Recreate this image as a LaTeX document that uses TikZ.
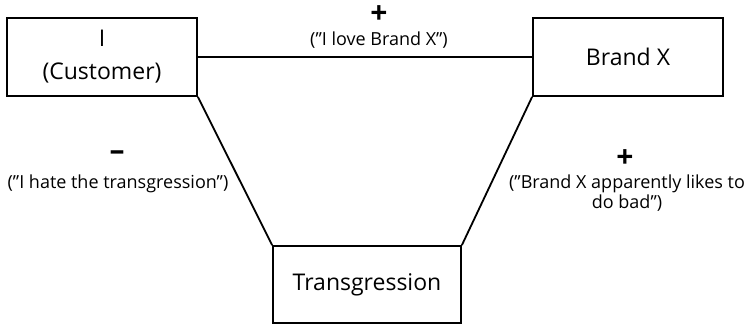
\documentclass[tikz,border=0pt]{standalone}
\usepackage{fontspec}
\setmainfont{Open Sans}
\begin{document}
\begin{tikzpicture}[x=1pt,y=-1pt,
  box/.style={draw, line width=1.8pt, rectangle, inner sep=0pt, minimum width=190pt, minimum height=78pt, align=center, font=\fontsize{23}{33}\selectfont},
  conn/.style={line width=1.8pt},
  lbl/.style={align=center, inner sep=0pt, font=\fontsize{18}{20}\selectfont},
  sign/.style={inner sep=0pt, font=\fontsize{30}{30}\selectfont\bfseries}]
\useasboundingbox (0,0) rectangle (747,325);
\node[box] (cust) at (102,57) {I\\(Customer)};
\node[box] (brand) at (628,57) {Brand X};
\node[box, minimum width=188pt, minimum height=77pt] (trans) at (367,284.5) {Transgression};
\draw[conn] (cust.east) -- (brand.west);
\draw[conn] (cust.south east) -- (trans.north west);
\draw[conn] (brand.south west) -- (trans.north east);
\node[sign] (p1) at (379,15) {+};
\node[lbl] (l1) at (379,40) {("I love Brand X”)};
\node[sign] (m1) at (117,156) {–};
\node[lbl] (l2) at (118,184) {("I hate the transgression”)};
\node[sign] (p2) at (625,159) {+};
\node[lbl] (l3) at (627,193) {("Brand X apparently likes to\\do bad”)};
\end{tikzpicture}
\end{document}
